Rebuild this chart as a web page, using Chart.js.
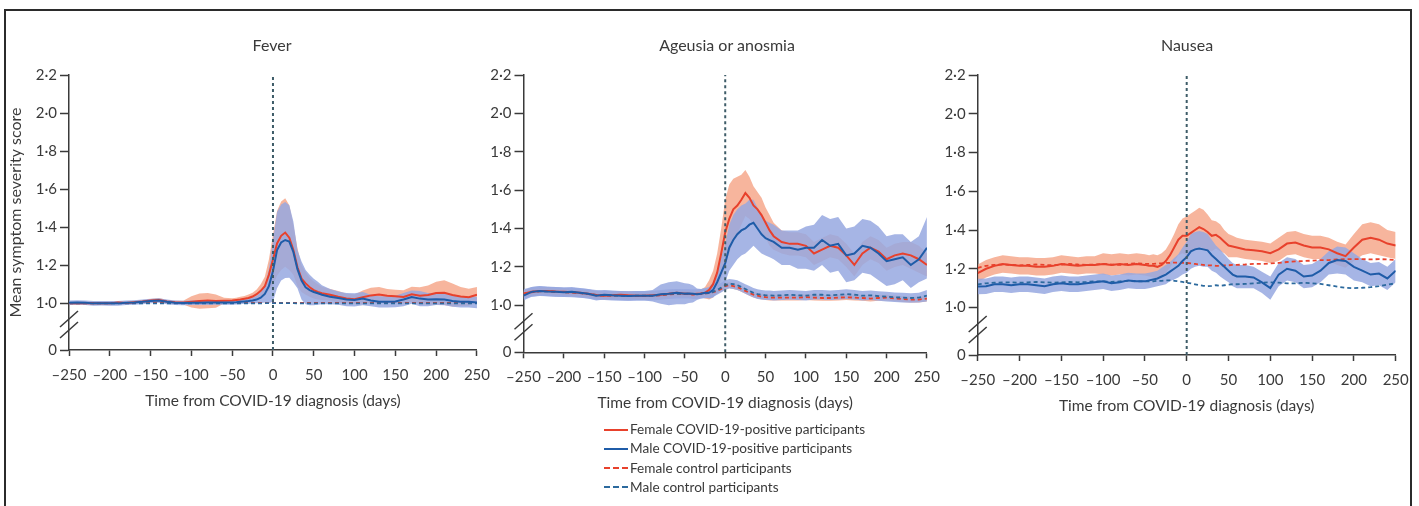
<!DOCTYPE html>
<html>
<head>
<meta charset="utf-8">
<script src="https://cdn.jsdelivr.net/npm/chart.js@4.4.0/dist/chart.umd.min.js"></script>
<style>
  body { margin: 0; background: #fff; width: 1419px; height: 506px; overflow: hidden; position: relative; font-family: Lato, 'Open Sans', sans-serif; color: #3a3a3a; }
  .frame { position: absolute; left: 4px; top: 9px; width: 1408px; height: 600px; border: 2px solid #2b2b2b; box-sizing: border-box; }
  canvas { position: absolute; top: 0; }
  .ptitle { position: absolute; top: 35px; width: 300px; text-align: center; font-size: 16px; }
  .legend { position: absolute; left: 604px; top: 420px; font-size: 13.6px; }
  .legend .row { height: 19.3px; line-height: 19.3px; white-space: nowrap; }
  .legend .sw { display: inline-block; width: 24px; vertical-align: middle; margin-right: 2px; margin-top: -2px; }
</style>
</head>
<body>
<div class="frame"></div>
<canvas id="fever" width="500" height="430" style="left:0px"></canvas>
<canvas id="anosmia" width="480" height="430" style="left:470px"></canvas>
<canvas id="nausea" width="489" height="430" style="left:930px"></canvas>
<div class="ptitle" style="left:122px">Fever</div>
<div class="ptitle" style="left:577px">Ageusia or anosmia</div>
<div class="ptitle" style="left:1037px">Nausea</div>
<div class="legend">
  <div class="row"><span class="sw" style="border-top:2px solid #e8412c"></span>Female COVID-19-positive participants</div>
  <div class="row"><span class="sw" style="border-top:2px solid #1f5ca8"></span>Male COVID-19-positive participants</div>
  <div class="row"><span class="sw" style="border-top:2px dashed #e8412c"></span>Female control participants</div>
  <div class="row"><span class="sw" style="border-top:2px dashed #2c6a9e"></span>Male control participants</div>
</div>
<script>
// days from COVID-19 diagnosis (finer around the peak)
const days = [
  -250, -240, -230, -220, -210, -200, -190, -180, -170, -160, -150, -140, -130, -120, -110, -100, -90, -80, -70, -60, -50,
  -45, -40, -35, -30, -25, -20, -15, -10, -5, 0, 5, 10, 15, 20, 25, 30, 35, 40, 45, 50, 55, 60,
  70, 80, 90, 100, 110, 120, 130, 140, 150, 160, 170, 180, 190, 200, 210, 220, 230, 240, 250
];
const xTicks = [-250, -200, -150, -100, -50, 0, 50, 100, 150, 200, 250];
const yTicks = [0, 1.0, 1.2, 1.4, 1.6, 1.8, 2.0, 2.2];

// Fever
const feverFemale = [
  1.000, 1.000, 1.002, 1.000, 1.001, 1.000, 1.004, 1.002, 1.006, 1.010, 1.015, 1.018, 1.010, 1.006, 1.004, 1.008, 1.012, 1.015, 1.012, 1.014, 1.015,
  1.018, 1.020, 1.024, 1.028, 1.036, 1.048, 1.066, 1.090, 1.150, 1.230, 1.315, 1.355, 1.372, 1.345, 1.280, 1.190, 1.130, 1.105, 1.085, 1.070, 1.060, 1.053,
  1.045, 1.035, 1.026, 1.022, 1.032, 1.042, 1.046, 1.040, 1.037, 1.034, 1.048, 1.040, 1.044, 1.054, 1.056, 1.044, 1.036, 1.032, 1.046
];
const feverFemaleCi = [
  0.008, 0.008, 0.008, 0.008, 0.008, 0.008, 0.008, 0.008, 0.008, 0.008, 0.008, 0.010, 0.008, 0.008, 0.010, 0.030, 0.040, 0.040, 0.035, 0.015, 0.012,
  0.012, 0.015, 0.015, 0.018, 0.020, 0.025, 0.035, 0.050, 0.080, 0.130, 0.170, 0.180, 0.180, 0.170, 0.130, 0.100, 0.070, 0.060, 0.050, 0.045, 0.040, 0.035,
  0.030, 0.030, 0.025, 0.025, 0.035, 0.040, 0.040, 0.035, 0.035, 0.035, 0.040, 0.045, 0.050, 0.060, 0.065, 0.060, 0.050, 0.045, 0.040
];
const feverMale = [
  1.003, 1.005, 1.003, 1.000, 1.001, 1.000, 1.000, 1.003, 1.005, 1.008, 1.012, 1.015, 1.008, 1.003, 1.002, 1.003, 1.003, 1.004, 1.005, 1.005, 1.005,
  1.006, 1.008, 1.010, 1.012, 1.015, 1.020, 1.030, 1.050, 1.090, 1.170, 1.280, 1.320, 1.333, 1.325, 1.270, 1.180, 1.120, 1.085, 1.070, 1.060, 1.053, 1.045,
  1.035, 1.028, 1.020, 1.018, 1.025, 1.015, 1.008, 1.008, 1.010, 1.020, 1.033, 1.025, 1.020, 1.022, 1.020, 1.012, 1.008, 1.008, 1.005
];
const feverMaleCi = [
  0.012, 0.012, 0.012, 0.012, 0.012, 0.012, 0.012, 0.012, 0.012, 0.012, 0.012, 0.012, 0.012, 0.012, 0.012, 0.012, 0.012, 0.012, 0.012, 0.012, 0.012,
  0.012, 0.012, 0.012, 0.014, 0.016, 0.020, 0.030, 0.045, 0.090, 0.160, 0.200, 0.200, 0.200, 0.190, 0.160, 0.100, 0.100, 0.090, 0.080, 0.070, 0.060, 0.050,
  0.040, 0.035, 0.035, 0.035, 0.035, 0.030, 0.030, 0.030, 0.030, 0.035, 0.035, 0.040, 0.035, 0.030, 0.030, 0.030, 0.030, 0.030, 0.030
];
const feverFemaleCtl = [
  1.002, 1.002, 1.001, 1.002, 1.002, 1.001, 1.002, 1.002, 1.002, 1.001, 1.002, 1.002, 1.002, 1.001, 1.002, 1.002, 1.002, 1.002, 1.001, 1.002, 1.002,
  1.002, 1.002, 1.002, 1.002, 1.002, 1.002, 1.002, 1.002, 1.003, 1.003, 1.003, 1.003, 1.003, 1.003, 1.002, 1.002, 1.002, 1.002, 1.002, 1.002, 1.002, 1.002,
  1.002, 1.002, 1.002, 1.002, 1.002, 1.002, 1.002, 1.002, 1.002, 1.002, 1.002, 1.002, 1.002, 1.002, 1.002, 1.002, 1.002, 1.002, 1.002
];
const feverMaleCtl = [
  1.000, 1.000, 1.000, 1.000, 1.000, 1.000, 1.000, 1.000, 1.000, 1.000, 1.000, 1.000, 1.000, 1.000, 1.000, 1.000, 1.000, 1.000, 1.000, 1.000, 1.000,
  1.000, 1.000, 1.000, 1.000, 1.000, 1.000, 1.000, 1.001, 1.001, 1.001, 1.001, 1.001, 1.001, 1.001, 1.001, 1.000, 1.000, 1.000, 1.000, 1.000, 1.000, 1.000,
  1.000, 1.000, 1.000, 1.000, 1.000, 1.000, 1.000, 1.000, 1.000, 1.000, 1.000, 1.000, 1.000, 1.000, 1.000, 1.000, 1.000, 1.000, 1.000
];

// Ageusia or anosmia
const anosFemale = [
  1.060, 1.070, 1.075, 1.075, 1.072, 1.070, 1.068, 1.065, 1.060, 1.054, 1.050, 1.052, 1.055, 1.052, 1.050, 1.050, 1.052, 1.055, 1.060, 1.065, 1.060,
  1.060, 1.058, 1.060, 1.062, 1.065, 1.080, 1.110, 1.170, 1.270, 1.380, 1.450, 1.500, 1.520, 1.550, 1.585, 1.560, 1.520, 1.500, 1.470, 1.430, 1.390, 1.360,
  1.330, 1.320, 1.320, 1.310, 1.270, 1.290, 1.310, 1.300, 1.260, 1.210, 1.270, 1.300, 1.280, 1.240, 1.260, 1.270, 1.260, 1.240, 1.210
];
const anosFemaleCi = [
  0.020, 0.020, 0.020, 0.020, 0.020, 0.020, 0.020, 0.020, 0.020, 0.020, 0.020, 0.020, 0.020, 0.020, 0.020, 0.020, 0.020, 0.020, 0.020, 0.020, 0.020,
  0.020, 0.020, 0.020, 0.020, 0.030, 0.050, 0.070, 0.100, 0.130, 0.170, 0.180, 0.160, 0.150, 0.130, 0.120, 0.110, 0.100, 0.090, 0.090, 0.080, 0.080, 0.070,
  0.060, 0.060, 0.060, 0.060, 0.060, 0.060, 0.060, 0.060, 0.060, 0.060, 0.060, 0.060, 0.060, 0.060, 0.060, 0.060, 0.070, 0.070, 0.060
];
const anosMale = [
  1.050, 1.070, 1.075, 1.072, 1.070, 1.068, 1.070, 1.065, 1.060, 1.050, 1.055, 1.052, 1.050, 1.048, 1.050, 1.050, 1.050, 1.058, 1.060, 1.065, 1.060,
  1.062, 1.060, 1.058, 1.060, 1.065, 1.065, 1.080, 1.120, 1.170, 1.220, 1.300, 1.340, 1.370, 1.390, 1.400, 1.420, 1.430, 1.400, 1.370, 1.350, 1.340, 1.330,
  1.300, 1.300, 1.290, 1.300, 1.300, 1.340, 1.310, 1.320, 1.260, 1.270, 1.310, 1.300, 1.270, 1.230, 1.240, 1.250, 1.210, 1.240, 1.300
];
const anosMaleCi = [
  0.025, 0.025, 0.025, 0.025, 0.025, 0.025, 0.025, 0.025, 0.025, 0.025, 0.025, 0.025, 0.025, 0.025, 0.025, 0.025, 0.030, 0.050, 0.060, 0.060, 0.055,
  0.050, 0.045, 0.030, 0.025, 0.025, 0.030, 0.040, 0.060, 0.080, 0.100, 0.120, 0.130, 0.130, 0.130, 0.130, 0.130, 0.120, 0.110, 0.100, 0.090, 0.090, 0.090,
  0.090, 0.090, 0.100, 0.110, 0.120, 0.130, 0.140, 0.140, 0.140, 0.140, 0.140, 0.140, 0.140, 0.130, 0.130, 0.120, 0.120, 0.120, 0.160
];
const anosFemaleCtl = [
  1.062, 1.068, 1.072, 1.074, 1.070, 1.068, 1.066, 1.063, 1.058, 1.052, 1.050, 1.050, 1.052, 1.050, 1.048, 1.048, 1.050, 1.052, 1.056, 1.060, 1.058,
  1.058, 1.056, 1.058, 1.060, 1.062, 1.064, 1.068, 1.075, 1.085, 1.100, 1.105, 1.100, 1.095, 1.085, 1.075, 1.065, 1.055, 1.050, 1.045, 1.042, 1.040, 1.040,
  1.040, 1.040, 1.040, 1.042, 1.040, 1.038, 1.038, 1.040, 1.042, 1.040, 1.038, 1.035, 1.038, 1.040, 1.036, 1.032, 1.030, 1.030, 1.035
];
const anosFemaleCtlCi = [
  0.015, 0.015, 0.015, 0.015, 0.015, 0.015, 0.015, 0.015, 0.015, 0.015, 0.015, 0.015, 0.015, 0.015, 0.015, 0.015, 0.015, 0.015, 0.015, 0.015, 0.015,
  0.015, 0.015, 0.015, 0.015, 0.015, 0.015, 0.015, 0.015, 0.015, 0.015, 0.015, 0.015, 0.015, 0.015, 0.015, 0.015, 0.015, 0.015, 0.015, 0.015, 0.015, 0.015,
  0.015, 0.015, 0.015, 0.015, 0.015, 0.015, 0.015, 0.015, 0.015, 0.015, 0.015, 0.015, 0.015, 0.015, 0.015, 0.015, 0.015, 0.015, 0.015
];
const anosMaleCtl = [
  1.058, 1.070, 1.074, 1.072, 1.070, 1.068, 1.067, 1.064, 1.060, 1.054, 1.052, 1.050, 1.050, 1.048, 1.050, 1.050, 1.050, 1.054, 1.058, 1.060, 1.060,
  1.060, 1.058, 1.058, 1.060, 1.062, 1.064, 1.070, 1.080, 1.092, 1.105, 1.112, 1.110, 1.105, 1.095, 1.085, 1.075, 1.065, 1.058, 1.055, 1.052, 1.052, 1.050,
  1.052, 1.055, 1.052, 1.050, 1.055, 1.055, 1.052, 1.055, 1.058, 1.055, 1.050, 1.052, 1.048, 1.045, 1.042, 1.040, 1.038, 1.040, 1.050
];
const anosMaleCtlCi = [
  0.025, 0.025, 0.025, 0.025, 0.025, 0.025, 0.025, 0.025, 0.025, 0.025, 0.025, 0.025, 0.025, 0.025, 0.025, 0.025, 0.025, 0.025, 0.025, 0.025, 0.025,
  0.025, 0.025, 0.025, 0.025, 0.025, 0.025, 0.025, 0.025, 0.025, 0.025, 0.025, 0.025, 0.025, 0.025, 0.025, 0.025, 0.025, 0.025, 0.025, 0.025, 0.025, 0.025,
  0.025, 0.025, 0.025, 0.025, 0.025, 0.025, 0.025, 0.025, 0.025, 0.025, 0.025, 0.025, 0.025, 0.025, 0.025, 0.025, 0.025, 0.025, 0.030
];

// Nausea
const nauFemale = [
  1.177, 1.200, 1.215, 1.225, 1.220, 1.215, 1.215, 1.210, 1.210, 1.215, 1.225, 1.220, 1.215, 1.220, 1.220, 1.225, 1.220, 1.225, 1.220, 1.225, 1.220,
  1.215, 1.215, 1.210, 1.220, 1.240, 1.270, 1.310, 1.350, 1.370, 1.370, 1.385, 1.400, 1.415, 1.405, 1.390, 1.370, 1.375, 1.360, 1.340, 1.320, 1.315, 1.310,
  1.300, 1.295, 1.290, 1.280, 1.300, 1.330, 1.335, 1.320, 1.310, 1.310, 1.300, 1.280, 1.265, 1.310, 1.350, 1.360, 1.350, 1.330, 1.320
];
const nauFemaleCi = [
  0.045, 0.045, 0.045, 0.045, 0.045, 0.045, 0.045, 0.045, 0.045, 0.045, 0.045, 0.045, 0.045, 0.045, 0.045, 0.055, 0.055, 0.055, 0.055, 0.055, 0.055,
  0.055, 0.060, 0.060, 0.060, 0.060, 0.065, 0.070, 0.080, 0.090, 0.100, 0.100, 0.100, 0.100, 0.100, 0.090, 0.080, 0.070, 0.070, 0.060, 0.060, 0.055, 0.050,
  0.050, 0.050, 0.050, 0.050, 0.060, 0.060, 0.060, 0.060, 0.060, 0.060, 0.060, 0.060, 0.060, 0.070, 0.080, 0.080, 0.080, 0.070, 0.070
];
const nauMale = [
  1.108, 1.110, 1.120, 1.120, 1.115, 1.120, 1.120, 1.115, 1.110, 1.120, 1.125, 1.120, 1.120, 1.125, 1.130, 1.135, 1.125, 1.130, 1.140, 1.135, 1.135,
  1.140, 1.145, 1.150, 1.160, 1.170, 1.185, 1.200, 1.215, 1.240, 1.260, 1.290, 1.300, 1.305, 1.300, 1.295, 1.270, 1.250, 1.230, 1.210, 1.190, 1.170, 1.160,
  1.160, 1.155, 1.130, 1.100, 1.170, 1.200, 1.190, 1.160, 1.165, 1.190, 1.230, 1.245, 1.240, 1.210, 1.190, 1.170, 1.175, 1.150, 1.190
];
const nauMaleCi = [
  0.040, 0.040, 0.040, 0.040, 0.040, 0.040, 0.040, 0.040, 0.040, 0.040, 0.040, 0.040, 0.040, 0.040, 0.040, 0.040, 0.040, 0.040, 0.040, 0.040, 0.040,
  0.040, 0.040, 0.040, 0.045, 0.050, 0.050, 0.055, 0.060, 0.070, 0.080, 0.090, 0.090, 0.090, 0.090, 0.085, 0.080, 0.070, 0.070, 0.065, 0.060, 0.060, 0.060,
  0.060, 0.055, 0.055, 0.060, 0.060, 0.060, 0.060, 0.060, 0.060, 0.060, 0.060, 0.070, 0.070, 0.070, 0.060, 0.060, 0.060, 0.060, 0.060
];
const nauFemaleCtl = [
  1.205, 1.215, 1.220, 1.222, 1.220, 1.218, 1.220, 1.222, 1.220, 1.218, 1.222, 1.225, 1.222, 1.220, 1.222, 1.225, 1.222, 1.220, 1.225, 1.228, 1.225,
  1.225, 1.225, 1.228, 1.228, 1.230, 1.230, 1.232, 1.232, 1.230, 1.230, 1.228, 1.225, 1.222, 1.220, 1.218, 1.218, 1.215, 1.215, 1.218, 1.218, 1.220, 1.220,
  1.222, 1.225, 1.225, 1.228, 1.230, 1.235, 1.238, 1.240, 1.242, 1.245, 1.245, 1.248, 1.250, 1.250, 1.250, 1.248, 1.250, 1.248, 1.245
];
const nauMaleCtl = [
  1.120, 1.125, 1.128, 1.130, 1.130, 1.128, 1.130, 1.132, 1.130, 1.128, 1.130, 1.132, 1.130, 1.132, 1.135, 1.135, 1.132, 1.135, 1.138, 1.135, 1.135,
  1.135, 1.135, 1.138, 1.138, 1.140, 1.140, 1.138, 1.135, 1.132, 1.128, 1.125, 1.120, 1.115, 1.112, 1.110, 1.112, 1.115, 1.112, 1.115, 1.118, 1.120, 1.120,
  1.122, 1.125, 1.128, 1.130, 1.128, 1.125, 1.125, 1.128, 1.125, 1.122, 1.115, 1.108, 1.102, 1.100, 1.102, 1.105, 1.110, 1.118, 1.125
];

const RED = '#e8412c';
const BLUE = '#1f5ca8';
const BLUE_CTL = '#2c6a9e';
const ORANGE_BAND = 'rgba(245, 160, 130, 0.78)';
const BLUE_BAND = 'rgba(150, 168, 224, 0.85)';
const AXIS = '#3a3a3a';
const TEXT = '#3a3a3a';
const FONT = "Lato, 'Open Sans', sans-serif";
const X_BOX = 60;

// the broken axis: the "0" tick sits at this value on the linear scale
const Y_BREAK = 0.755;

function pts(arr) {
    return days.map((d, i) => ({ x: d, y: arr[i] }));
}
function band(mean, ci, sign) {
    return days.map((d, i) => ({ x: d, y: mean[i] + sign * ci[i] }));
}

// draws the // marks across the y axis between 0 and 1.0
const axisBreak = {
    id: 'axisBreak',
    afterDraw(chart) {
        const ctx = chart.ctx;
        const x = chart.chartArea.left;
        const b = chart.chartArea.bottom;
        ctx.save();
        ctx.strokeStyle = AXIS;
        ctx.lineWidth = 1.5;
        [31, 20].forEach(off => {
            ctx.beginPath();
            ctx.moveTo(x - 9, b - off + 8);
            ctx.lineTo(x + 9, b - off - 8);
            ctx.stroke();
        });
        ctx.restore();
    }
};

function makePanel(id, lay, s) {
    const datasets = [];
    datasets.push({ data: band(s.fPos, s.fPosCi, 1), fill: '+1', backgroundColor: ORANGE_BAND, borderColor: 'transparent', borderWidth: 0, order: 20 });
    datasets.push({ data: band(s.fPos, s.fPosCi, -1), fill: false, borderColor: 'transparent', borderWidth: 0, order: 20 });
    datasets.push({ data: band(s.mPos, s.mPosCi, 1), fill: '+1', backgroundColor: BLUE_BAND, borderColor: 'transparent', borderWidth: 0, order: 19 });
    datasets.push({ data: band(s.mPos, s.mPosCi, -1), fill: false, borderColor: 'transparent', borderWidth: 0, order: 19 });
    if (s.fCtlCi) {
        datasets.push({ data: band(s.fCtl, s.fCtlCi, 1), fill: '+1', backgroundColor: ORANGE_BAND, borderColor: 'transparent', borderWidth: 0, order: 18 });
        datasets.push({ data: band(s.fCtl, s.fCtlCi, -1), fill: false, borderColor: 'transparent', borderWidth: 0, order: 18 });
        datasets.push({ data: band(s.mCtl, s.mCtlCi, 1), fill: '+1', backgroundColor: BLUE_BAND, borderColor: 'transparent', borderWidth: 0, order: 17 });
        datasets.push({ data: band(s.mCtl, s.mCtlCi, -1), fill: false, borderColor: 'transparent', borderWidth: 0, order: 17 });
    }
    datasets.push({ data: pts(s.fCtl), borderColor: RED, borderWidth: 1.8, borderDash: [4, 3], fill: false, order: 6 });
    datasets.push({ data: pts(s.mCtl), borderColor: BLUE_CTL, borderWidth: 1.8, borderDash: [4, 3], fill: false, order: 5 });
    datasets.push({ data: pts(s.fPos), borderColor: RED, borderWidth: 2, fill: false, order: 4 });
    datasets.push({ data: pts(s.mPos), borderColor: BLUE, borderWidth: 2, fill: false, order: 3 });
    // day 0 marker
    datasets.push({ data: [{ x: 0, y: Y_BREAK }, { x: 0, y: yTicks[yTicks.length - 1] }], borderColor: '#3e5c68', borderWidth: 2, borderDash: [3, 3], fill: false, order: 1 });

    const canvas = document.getElementById(id);
    const H = canvas.height;
    const W = canvas.width;

    return new Chart(canvas, {
        type: 'line',
        data: { datasets },
        options: {
            responsive: false,
            animation: false,
            devicePixelRatio: 1,
            elements: { point: { radius: 0 }, line: { tension: 0 } },
            layout: {
                autoPadding: false,
                padding: { left: 0, top: 75, right: W - lay.right, bottom: H - lay.bottom - X_BOX }
            },
            plugins: { legend: { display: false }, tooltip: { enabled: false } },
            scales: {
                x: {
                    type: 'linear',
                    min: -250,
                    max: 250,
                    afterBuildTicks: sc => { sc.ticks = xTicks.map(v => ({ value: v })); },
                    afterFit: sc => { sc.height = X_BOX; },
                    ticks: {
                        color: TEXT,
                        font: { family: FONT, size: 15 },
                        padding: 10,
                        maxRotation: 0,
                        autoSkip: false,
                        callback: v => v < 0 ? '\u2013' + (-v) : '' + v
                    },
                    grid: { drawOnChartArea: false, tickLength: 6, tickColor: AXIS, tickWidth: 1.5 },
                    border: { color: AXIS, width: 1.5 },
                    title: {
                        display: true,
                        text: 'Time from COVID-19 diagnosis (days)',
                        color: TEXT,
                        font: { family: FONT, size: 15.5 },
                        padding: { top: 0, bottom: 0 }
                    }
                },
                y: {
                    type: 'linear',
                    min: Y_BREAK,
                    max: yTicks[yTicks.length - 1],
                    afterBuildTicks: sc => { sc.ticks = yTicks.map(v => ({ value: v === 0 ? Y_BREAK : v })); },
                    afterFit: sc => { sc.width = lay.left; },
                    ticks: {
                        color: TEXT,
                        font: { family: FONT, size: 15 },
                        padding: 3,
                        callback: v => v < 1 ? '0' : v.toFixed(1).replace('.', '\u00b7')
                    },
                    grid: { drawOnChartArea: false, tickLength: 9, tickColor: AXIS, tickWidth: 1.5 },
                    border: { color: AXIS, width: 1.5 },
                    title: {
                        display: !!lay.yTitle,
                        text: 'Mean symptom severity score',
                        color: TEXT,
                        font: { family: FONT, size: 16 },
                        padding: { top: 6, bottom: 0 }
                    }
                }
            }
        },
        plugins: [axisBreak]
    });
}

makePanel('fever', { left: 69, right: 478.3, bottom: 350, yTitle: true }, {
    fPos: feverFemale, fPosCi: feverFemaleCi, mPos: feverMale, mPosCi: feverMaleCi,
    fCtl: feverFemaleCtl, mCtl: feverMaleCtl
});
makePanel('anosmia', { left: 53.5, right: 458.5, bottom: 352.3 }, {
    fPos: anosFemale, fPosCi: anosFemaleCi, mPos: anosMale, mPosCi: anosMaleCi,
    fCtl: anosFemaleCtl, mCtl: anosMaleCtl, fCtlCi: anosFemaleCtlCi, mCtlCi: anosMaleCtlCi
});
makePanel('nausea', { left: 47.7, right: 465.7, bottom: 355 }, {
    fPos: nauFemale, fPosCi: nauFemaleCi, mPos: nauMale, mPosCi: nauMaleCi,
    fCtl: nauFemaleCtl, mCtl: nauMaleCtl
});
</script>
</body>
</html>
